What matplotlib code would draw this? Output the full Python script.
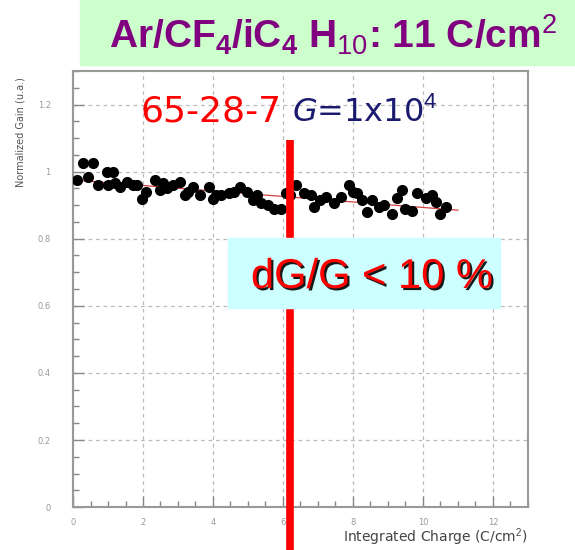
import matplotlib
matplotlib.use("Agg")
import matplotlib.pyplot as plt
import matplotlib.patheffects as pe
from matplotlib.patches import Rectangle
from matplotlib.ticker import MultipleLocator

plt.rcParams['mathtext.fontset'] = 'custom'
plt.rcParams['mathtext.rm'] = 'Liberation Sans'
plt.rcParams['mathtext.bf'] = 'Liberation Sans:bold'
plt.rcParams['mathtext.it'] = 'DejaVu Sans:italic'

# integrated charge (C/cm^2) and normalized gain
charge = [0.11, 0.28, 0.43, 0.57, 0.71, 0.97, 1.14, 0.99, 1.2, 1.34, 1.54, 1.71,
          1.82, 1.97, 2.1, 2.34, 2.48, 2.57, 2.7, 2.85, 3.05, 3.19, 3.3, 3.42,
          3.62, 3.9, 3.99, 4.1, 4.24, 4.47, 4.6, 4.76, 4.96, 5.13, 5.25, 5.38,
          5.56, 5.75, 5.95, 6.1, 6.2, 6.38, 6.61, 6.81, 6.9, 7.05, 7.23, 7.46,
          7.66, 7.9, 8.0, 8.12, 8.26, 8.4, 8.55, 8.75, 8.89, 9.12, 9.26, 9.4,
          9.5, 9.69, 9.83, 10.08, 10.26, 10.37, 10.5, 10.65]
gain = [0.974, 1.025, 0.983, 1.025, 0.96, 1.0, 1.0, 0.96, 0.965, 0.953, 0.968, 0.96,
        0.96, 0.917, 0.94, 0.974, 0.944, 0.965, 0.95, 0.96, 0.968, 0.93, 0.94, 0.953,
        0.93, 0.953, 0.918, 0.93, 0.93, 0.935, 0.94, 0.955, 0.94, 0.914, 0.93, 0.905,
        0.9, 0.89, 0.89, 0.935, 0.93, 0.96, 0.935, 0.93, 0.894, 0.915, 0.923, 0.905,
        0.923, 0.96, 0.94, 0.935, 0.914, 0.88, 0.914, 0.894, 0.9, 0.875, 0.92, 0.944,
        0.89, 0.884, 0.935, 0.92, 0.93, 0.91, 0.875, 0.894]

fit_x = [0.0, 11.0]
fit_y = [0.975, 0.885]

marker_x = 6.2
marker_y = [1.093, -0.13]

xticks = [0, 2, 4, 6, 8, 10, 12]
yticks = [0, 0.2, 0.4, 0.6, 0.8, 1.0, 1.2]
ytick_labels = ['0', '0.2', '0.4', '0.6', '0.8', '1', '1.2']

fig = plt.figure(figsize=(5.75, 5.5), dpi=100)
ax = fig.add_axes([0.127, 0.078, 0.791, 0.793])

ax.set_xlim(0, 13)
ax.set_ylim(0, 1.3)
ax.set_xticks(xticks)
ax.set_yticks(yticks)
ax.set_yticklabels(ytick_labels)
ax.xaxis.set_minor_locator(MultipleLocator(0.5))
ax.yaxis.set_minor_locator(MultipleLocator(0.05))
ax.tick_params(which='major', direction='in', length=8, width=1, color='#888888',
               labelsize=6, labelcolor='#999999', pad=8)
ax.tick_params(axis='y', which='major', pad=16)
ax.tick_params(which='minor', direction='in', length=4, width=1, color='#888888')
ax.grid(True, which='major', linestyle=(0, (3, 3)), color='#bbbbbb', linewidth=0.9)
for s in ax.spines.values():
    s.set_color('#999999')
    s.set_linewidth(1.5)

ax.plot(fit_x, fit_y, color='#d04040', linewidth=0.9, zorder=2)
ax.plot(charge, gain, 'o', color='black', markersize=7, zorder=3)

ax.set_ylabel('Normalized Gain (u.a.)', fontsize=7, color='#555555')
ax.yaxis.set_label_coords(-0.105, 0.86)
ax.set_xlabel('Integrated Charge (C/cm$^2$)', fontsize=10, color='#444444')
ax.xaxis.set_label_coords(1.0, -0.045)
ax.xaxis.label.set_horizontalalignment('right')

ax.plot([marker_x, marker_x], marker_y, color='#ff0000', linewidth=5.5,
        clip_on=False, zorder=5, solid_capstyle='butt')

# title band
fig.patches.append(Rectangle((80 / 575, 1 - 65 / 550), 495 / 575, 65 / 550,
                             transform=fig.transFigure, color='#ccffcc', zorder=0))
fig.text(333 / 575, 1 - 35 / 550,
         r'Ar/CF$_\mathbf{4}$/iC$_\mathbf{4}$ H$_{10}$: 11 C/cm$^\mathrm{2}$',
         fontsize=28, fontweight='bold', color='#800080', family='Liberation Sans',
         ha='center', va='center')

fig.text(282 / 575, 1 - 112 / 550, '65-28-7', fontsize=26, color='#ff0000',
         ha='right', va='center')
fig.text(292 / 575, 1 - 112 / 550, '$G$=1x10$^4$', fontsize=23, color='#1a1a6e',
         ha='left', va='center')

fig.patches.append(Rectangle((228 / 575, 1 - 308 / 550), 272 / 575, 70 / 550,
                             transform=fig.transFigure, color='#ccffff', zorder=10))
t = fig.text(372 / 575, 1 - 277 / 550, 'dG/G < 10 %', fontsize=30, color='#ff0000',
             family='Liberation Sans', ha='center', va='center', zorder=11)
t.set_path_effects([pe.SimplePatchShadow(offset=(1.5, -1.5), shadow_rgbFace='black',
                                         alpha=0.9), pe.Normal()])

fig.savefig('out.png', dpi=100)
